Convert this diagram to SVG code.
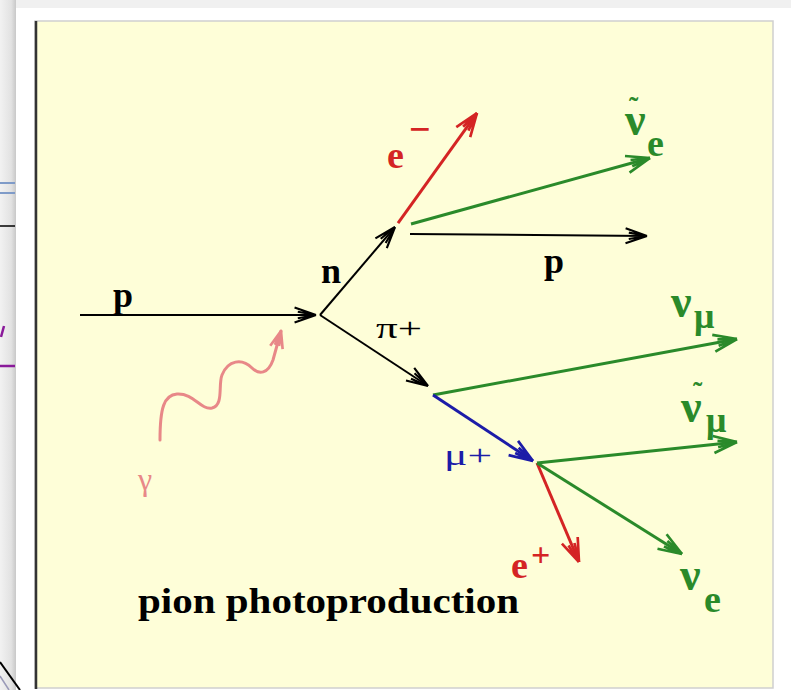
<svg xmlns="http://www.w3.org/2000/svg" width="791" height="690" viewBox="0 0 791 690">
<defs>
<style>
.lbl{font-family:"Liberation Serif","Times New Roman",serif;font-weight:bold;}
.reg{font-family:"Liberation Serif","Times New Roman",serif;font-weight:normal;}
.blk{stroke:#000;stroke-width:2;fill:none}
.grn{stroke:#2a8a2a;stroke-width:3;fill:none}
.red{stroke:#d42424;stroke-width:3;fill:none}
.blu{stroke:#1c1ca8;stroke-width:3;fill:none}
.g{fill:#2a8a2a}
</style>
<linearGradient id="strip" x1="0" x2="1" y1="0" y2="0">
<stop offset="0" stop-color="#f2f2f2"/>
<stop offset="0.7" stop-color="#e2e2e2"/>
<stop offset="1" stop-color="#c8c8c8"/>
</linearGradient>
<marker id="aBlk" markerUnits="userSpaceOnUse" markerWidth="30" markerHeight="30" refX="0" refY="0" viewBox="-24 -12 28 24" orient="auto" overflow="visible">
<path d="M0,0 L-20,-7 M0,0 L-20,7 M0,0 L-17,-3 M0,0 L-17,3" stroke="#000" stroke-width="2" fill="none"/>
</marker>
<marker id="aGrn" markerUnits="userSpaceOnUse" markerWidth="30" markerHeight="30" refX="0" refY="0" viewBox="-24 -12 28 24" orient="auto" overflow="visible">
<path d="M0,0 L-22,-8 M0,0 L-22,8 M0,0 L-18,-3 M0,0 L-18,3" stroke="#2a8a2a" stroke-width="2.5" fill="none"/>
</marker>
<marker id="aRed" markerUnits="userSpaceOnUse" markerWidth="30" markerHeight="30" refX="0" refY="0" viewBox="-24 -12 28 24" orient="auto" overflow="visible">
<path d="M0,0 L-22,-8 M0,0 L-22,8 M0,0 L-18,-3 M0,0 L-18,3" stroke="#d42424" stroke-width="2.5" fill="none"/>
</marker>
<marker id="aBlu" markerUnits="userSpaceOnUse" markerWidth="30" markerHeight="30" refX="0" refY="0" viewBox="-24 -12 28 24" orient="auto" overflow="visible">
<path d="M0,0 L-22,-8 M0,0 L-22,8 M0,0 L-18,-3 M0,0 L-18,3" stroke="#1c1ca8" stroke-width="2.5" fill="none"/>
</marker>
<marker id="aPnk" markerUnits="userSpaceOnUse" markerWidth="30" markerHeight="30" refX="0" refY="0" viewBox="-24 -12 28 24" orient="auto" overflow="visible">
<path d="M0,0 L-16,-6 M0,0 L-16,6 M0,0 L-14,-2 M0,0 L-14,2" stroke="#e88888" stroke-width="2.5" fill="none"/>
</marker>
</defs>

<rect x="0" y="0" width="791" height="690" fill="#ffffff"/>
<rect x="10" y="0" width="781" height="8" fill="#f0f0f0"/>
<rect x="0" y="0" width="16" height="690" fill="url(#strip)"/>
<g id="left-fragments">
<line x1="0" y1="183" x2="15" y2="183" stroke="#7f9bc8" stroke-width="2"/>
<line x1="0" y1="193" x2="15" y2="193" stroke="#7f9bc8" stroke-width="2"/>
<line x1="0" y1="226" x2="15" y2="226" stroke="#000" stroke-width="1.5"/>
<line x1="1" y1="337" x2="4" y2="326" stroke="#8a1a9a" stroke-width="2.5"/>
<line x1="0" y1="366" x2="15" y2="366" stroke="#8a1a9a" stroke-width="2.5"/>
<line x1="0" y1="662" x2="20" y2="690" stroke="#000" stroke-width="2"/>
<line x1="0" y1="676" x2="9" y2="690" stroke="#9a9ab8" stroke-width="1.5"/>
</g>

<g id="panel">
<rect x="35" y="21" width="738" height="667" fill="#fefed8" stroke="#cfcfcf" stroke-width="1.5"/>
<line x1="36" y1="21" x2="36" y2="689" stroke="#333" stroke-width="2.5"/>
</g>

<g id="connectors">
<line class="blk" x1="80" y1="315" x2="316" y2="315" marker-end="url(#aBlk)"/>
<line class="blk" x1="320" y1="315" x2="395" y2="227" marker-end="url(#aBlk)"/>
<line class="blk" x1="320" y1="315" x2="428" y2="386" marker-end="url(#aBlk)"/>
<line class="red" x1="398" y1="223" x2="477" y2="113" marker-end="url(#aRed)"/>
<line class="grn" x1="411" y1="224" x2="650" y2="158" marker-end="url(#aGrn)"/>
<line class="blk" x1="410" y1="234" x2="647" y2="236" marker-end="url(#aBlk)"/>
<line class="grn" x1="433" y1="395" x2="737" y2="339" marker-end="url(#aGrn)"/>
<line class="blu" x1="433" y1="395" x2="533" y2="461" marker-end="url(#aBlu)"/>
<line class="grn" x1="537" y1="463" x2="737" y2="442" marker-end="url(#aGrn)"/>
<line class="red" x1="537" y1="463" x2="579" y2="562" marker-end="url(#aRed)"/>
<line class="grn" x1="537" y1="463" x2="682" y2="554" marker-end="url(#aGrn)"/>
<path d="M160,440 C160,408 164,395 177,394 C194,393 200,410 212,408 C224,405 218,385 222,375 C228,360 242,358 252,368 C259,375 268,374 273,360 L281,331" stroke="#e88888" stroke-width="3" fill="none" stroke-linecap="round" marker-end="url(#aPnk)"/>
</g>

<g id="p-in"><text class="lbl" x="113" y="307" font-size="36">p</text></g>
<g id="n"><text class="lbl" x="321" y="283" font-size="36">n</text></g>
<g id="pi-plus"><text class="reg" x="376" y="338" font-size="30" textLength="46" lengthAdjust="spacingAndGlyphs">π+</text></g>
<g id="e-minus"><text class="lbl" x="387" y="168" font-size="38" fill="#d42424">e<tspan x="409" y="142">−</tspan></text></g>
<g id="anti-nu-e">
<text class="lbl g" x="625" y="135" font-size="46">ν<tspan x="629" y="116" font-size="28">˜</tspan></text>
<text class="lbl g" x="647" y="156" font-size="38">e</text>
</g>
<g id="p-out"><text class="lbl" x="544" y="273" font-size="36">p</text></g>
<g id="nu-mu">
<text class="lbl g" x="671" y="317" font-size="46">ν</text>
<text class="lbl g" x="694" y="328" font-size="36">μ</text>
</g>
<g id="mu-plus"><text class="reg" x="444" y="465" font-size="30" fill="#1c1ca8" textLength="48" lengthAdjust="spacingAndGlyphs">μ+</text></g>
<g id="anti-nu-mu">
<text class="lbl g" x="681" y="422" font-size="46">ν<tspan x="693" y="401" font-size="28">˜</tspan></text>
<text class="lbl g" x="706" y="432" font-size="36">μ</text>
</g>
<g id="e-plus"><text class="lbl" x="511" y="578" font-size="38" fill="#d42424">e<tspan x="531" y="566" font-size="34">+</tspan></text></g>
<g id="nu-e">
<text class="lbl g" x="680" y="590" font-size="46">ν</text>
<text class="lbl g" x="704" y="612" font-size="38">e</text>
</g>
<g id="gamma"><text class="reg" x="138" y="490" font-size="32" fill="#e88888">γ</text></g>
<g id="title"><text class="lbl" x="138" y="613" font-size="35" textLength="381" lengthAdjust="spacingAndGlyphs">pion photoproduction</text></g>
</svg>
